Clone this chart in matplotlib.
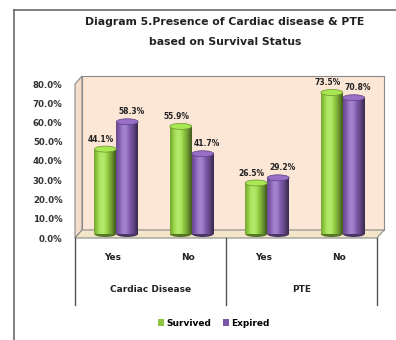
import numpy as np
import matplotlib
matplotlib.use("Agg")
import matplotlib.pyplot as plt
from matplotlib.patches import Polygon, Ellipse
from matplotlib.lines import Line2D
from matplotlib.colors import to_rgb
from matplotlib.ticker import FuncFormatter

plt.rcParams['font.family'] = ['Liberation Sans Narrow', 'DejaVu Sans']

# ---- data ----
groups = ["Cardiac Disease", "PTE"]
subcats = ["Yes", "No", "Yes", "No"]
survived = [44.1, 55.9, 26.5, 73.5]
expired = [58.3, 41.7, 29.2, 70.8]
series_names = ["Survived", "Expired"]
series_colors = ["#8CC43F", "#7B58A6"]
yticks = [0, 10, 20, 30, 40, 50, 60, 70, 80]

W, H = 396, 340
fig = plt.figure(figsize=(W / 100, H / 100), dpi=100)
fig.patch.set_facecolor("white")

# outer chart frame (left and top edges)
fig.add_artist(Line2D([14 / W, 14 / W], [0, 1 - 10 / H], color="#6b6b6b", lw=1.2))
fig.add_artist(Line2D([14 / W, 1], [1 - 10 / H, 1 - 10 / H], color="#6b6b6b", lw=1.2))

fig.text(0.568, 1 - 22 / H, "Diagram 5.Presence of Cardiac disease & PTE",
         ha="center", va="center", fontsize=7.8, fontweight="bold", color="#222222")
fig.text(0.568, 1 - 42 / H, "based on Survival Status",
         ha="center", va="center", fontsize=7.8, fontweight="bold", color="#222222")

left, right, bottom, top = 75, 377, 238, 84
ax = fig.add_axes([left / W, 1 - bottom / H, (right - left) / W, (bottom - top) / H])
ax.set_xlim(0, 4)
ax.set_ylim(0, 80)
ax.patch.set_visible(False)
for s in ax.spines.values():
    s.set_visible(False)

# depth offsets for the pseudo-3D walls
dx = 7 / (right - left) * 4
dy = 8 / (bottom - top) * 80

wall = "#FCE6D6"
edge = "#8a8a8a"
ax.add_patch(Polygon([(dx, dy), (4 + dx, dy), (4 + dx, 80 + dy), (dx, 80 + dy)],
                     closed=True, facecolor=wall, edgecolor=edge, lw=0.8, clip_on=False, zorder=0))
ax.add_patch(Polygon([(0, 0), (dx, dy), (dx, 80 + dy), (0, 80)],
                     closed=True, facecolor="#F6DCCB", edgecolor=edge, lw=0.8, clip_on=False, zorder=0))
ax.add_patch(Polygon([(0, 0), (4, 0), (4 + dx, dy), (dx, dy)],
                     closed=True, facecolor="#F3E6C8", edgecolor=edge, lw=0.8, clip_on=False, zorder=0.5))

ax.set_yticks(yticks)
ax.yaxis.set_major_formatter(FuncFormatter(lambda v, p: f"{v:.1f}%"))
ax.tick_params(axis="y", length=0, pad=9, labelsize=6.2)
for t in ax.get_yticklabels():
    t.set_fontweight("bold")
    t.set_color("#333333")
ax.set_xticks([])

# cylinder drawing
bw = 0.29
ell_h = 6 / (bottom - top) * 80
n = 40
tt = np.linspace(0, 1, n)
shade = 0.62 + 0.55 * np.cos((tt - 0.38) * np.pi * 0.95)


def cylinder(xc, val, color, label_shift):
    base = np.array(to_rgb(color))
    cols = np.clip(base[None, :] * shade[:, None], 0, 1)
    hi = np.clip((shade - 1.05) * 1.5, 0, 0.35)
    cols = cols * (1 - hi[:, None]) + hi[:, None]
    x0 = xc - bw / 2 + dx / 2
    y0 = dy / 2
    ax.add_patch(Ellipse((x0 + bw / 2, y0), bw, ell_h, facecolor=base * 0.6,
                         edgecolor="none", zorder=2, clip_on=False))
    ax.imshow(cols[None, :, :], extent=(x0, x0 + bw, y0, y0 + val), aspect="auto",
              zorder=3, interpolation="bilinear", clip_on=False)
    ax.add_patch(Ellipse((x0 + bw / 2, y0 + val), bw, ell_h,
                         facecolor=np.clip(base * 1.12 + 0.05, 0, 1),
                         edgecolor=base * 0.75, lw=0.5, zorder=4, clip_on=False))
    ax.text(x0 + bw / 2 + label_shift, y0 + val + ell_h / 2 + 1.2, f"{val:.1f}%",
            ha="center", va="bottom", fontsize=5.5, fontweight="bold", color="#222222", zorder=5)


centers = np.arange(len(subcats)) + 0.5
for i, c in enumerate(centers):
    cylinder(c - bw / 2, survived[i], series_colors[0], -0.06)
    cylinder(c + bw / 2, expired[i], series_colors[1], 0.06)

ax.set_xlim(0, 4)
ax.set_ylim(0, 80)

# category axis below the floor
ylo = -35
for xv in [0, 2, 4]:
    ax.add_line(Line2D([xv, xv], [0, ylo], color="#555555", lw=1.0, clip_on=False))
for c, lab in zip(centers, subcats):
    ax.text(c, -10, lab, ha="center", va="center", fontsize=6.5, fontweight="bold", color="#222222")
for g, lab in enumerate(groups):
    ax.text(2 * g + 1, -27, lab, ha="center", va="center", fontsize=6.5, fontweight="bold",
            color="#222222")

handles = [plt.Rectangle((0, 0), 1, 1, facecolor=c) for c in series_colors]
leg = fig.legend(handles, series_names, loc="center", bbox_to_anchor=(0.54, 1 - 323 / H), ncol=2,
                 frameon=False, fontsize=6.5, handlelength=0.7, handleheight=0.7,
                 handletextpad=0.3, columnspacing=1.2)
for t in leg.get_texts():
    t.set_fontweight("bold")

fig.savefig("out.png", dpi=100, facecolor="white")
